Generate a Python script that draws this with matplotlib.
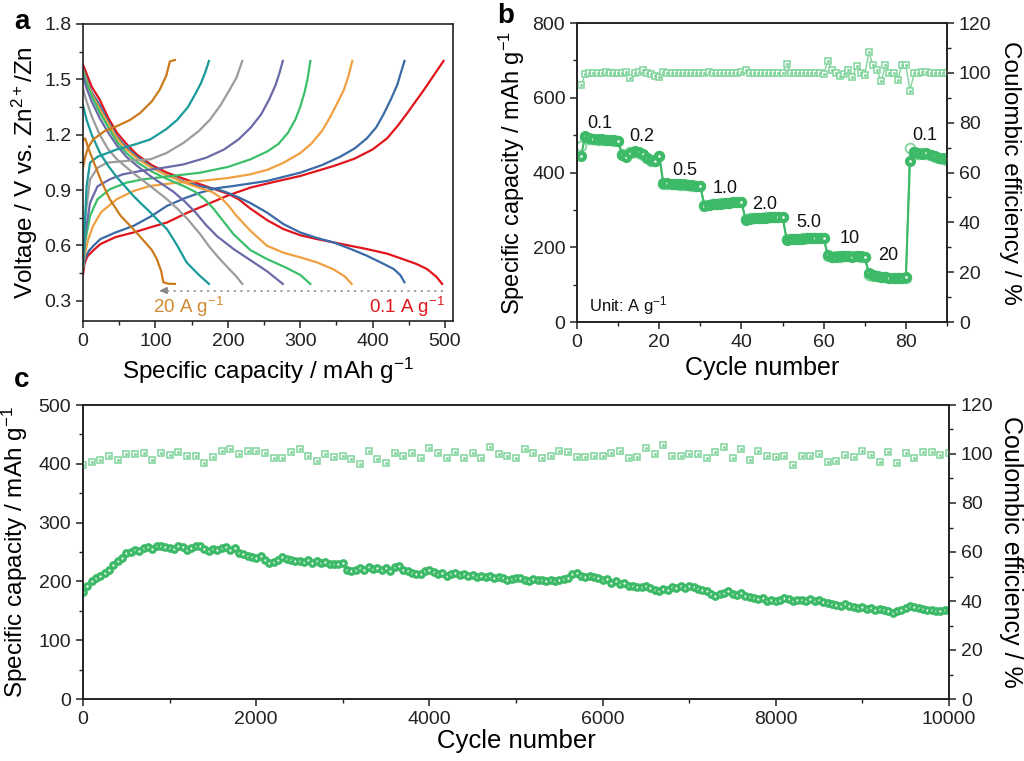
import matplotlib
matplotlib.use("Agg")
import matplotlib.pyplot as plt
from matplotlib.ticker import MultipleLocator

plt.rcParams['font.family'] = ['Liberation Sans', 'DejaVu Sans']
plt.rcParams['mathtext.fontset'] = 'custom'
plt.rcParams['mathtext.rm'] = 'Liberation Sans'
plt.rcParams['mathtext.it'] = 'Liberation Sans:italic'
plt.rcParams['mathtext.bf'] = 'Liberation Sans:bold'
plt.rcParams['mathtext.default'] = 'regular'

# ---------------- Panel a data ----------------
rates = ['0.1', '0.2', '0.5', '1.0', '2.0', '5.0', '10', '20']
rate_colors = ['#e0161c', '#3a6aa6', '#f0a040', '#3cbf6a', '#6b6aa8', '#9c9c9c', '#1a9a9a', '#cc7a1c']

charge_cap = [
    [0, 2, 6, 12, 24, 45, 70, 95, 116, 143, 170, 200, 231, 265, 300, 346, 375, 400, 420, 435, 448, 471, 498],
    [0, 3, 8, 15, 24, 45, 70, 95, 116, 140, 162, 185, 208, 254, 300, 330, 355, 375, 392, 405, 415, 425, 434, 444],
    [0, 3, 7, 14, 25, 46.6, 70, 92.7, 130, 162, 200, 231, 255, 277, 300, 315, 330, 342, 351, 360, 366, 372],
    [0, 3, 9.7, 20, 37, 60, 83, 120, 162, 200, 231, 255, 270, 283, 293, 300, 306, 310, 314],
    [0, 3, 9.7, 20, 37, 55, 79, 110, 139, 170, 195, 215, 232, 246, 257, 266, 271, 276],
    [0, 3, 9.7, 20, 33, 60, 92.7, 115, 139, 160, 175, 190, 202, 212, 220],
    [0, 2, 5, 9.7, 20, 46.6, 70, 92.7, 115, 130, 145, 155, 163, 169, 174],
    [0, 3, 7, 14, 30, 46.6, 65, 79, 95, 106, 115, 120, 127],
]
charge_v = [
    [0.44, 0.50, 0.54, 0.565, 0.607, 0.645, 0.67, 0.70, 0.724, 0.775, 0.82, 0.87, 0.913, 0.945, 0.976, 1.03, 1.07, 1.12, 1.18, 1.25, 1.318, 1.444, 1.60],
    [0.47, 0.53, 0.57, 0.60, 0.634, 0.67, 0.706, 0.76, 0.814, 0.855, 0.886, 0.91, 0.922, 0.949, 0.994, 1.035, 1.08, 1.125, 1.18, 1.24, 1.31, 1.39, 1.47, 1.60],
    [0.48, 0.56, 0.63, 0.706, 0.78, 0.85, 0.895, 0.922, 0.94, 0.949, 0.965, 0.985, 1.01, 1.048, 1.10, 1.15, 1.22, 1.30, 1.37, 1.44, 1.51, 1.60],
    [0.48, 0.62, 0.76, 0.85, 0.904, 0.94, 0.958, 0.975, 0.994, 1.025, 1.066, 1.11, 1.15, 1.21, 1.28, 1.35, 1.43, 1.50, 1.60],
    [0.48, 0.66, 0.83, 0.92, 0.958, 0.985, 1.003, 1.02, 1.039, 1.075, 1.12, 1.175, 1.24, 1.31, 1.39, 1.47, 1.53, 1.60],
    [0.48, 0.75, 0.958, 1.02, 1.048, 1.058, 1.066, 1.10, 1.156, 1.22, 1.28, 1.36, 1.44, 1.51, 1.60],
    [0.50, 0.67, 0.92, 1.048, 1.08, 1.12, 1.145, 1.174, 1.23, 1.28, 1.35, 1.42, 1.48, 1.54, 1.60],
    [1.02, 1.08, 1.13, 1.174, 1.22, 1.246, 1.28, 1.318, 1.38, 1.444, 1.52, 1.597, 1.605],
]
discharge_cap = [
    [0, 5, 12, 23, 35, 47, 60, 75, 95, 116, 140, 162, 185, 200, 215, 231, 255, 277, 300, 323, 360, 392, 420, 440, 460, 475, 488, 496],
    [0, 5, 12, 23, 35, 47, 60, 75, 95, 116, 140, 162, 185, 200, 215, 231, 254, 277, 300, 323, 346, 370, 392, 415, 429, 438, 444],
    [0, 5, 12, 23, 35, 47, 60, 75, 95, 116, 140, 162, 178, 190, 200, 212, 231, 254, 277, 300, 323, 346, 362, 371],
    [0, 5, 12, 23, 35, 47, 60, 75, 95, 116, 140, 155, 168, 180, 192, 208, 231, 254, 280, 300, 314],
    [0, 5, 12, 23, 35, 47, 60, 75, 95, 110, 125, 140, 155, 170, 185, 208, 231, 254, 276],
    [0, 5, 12, 23, 35, 47, 70, 92.7, 116, 130, 145, 162, 175, 188, 200, 212, 220],
    [0, 5, 12, 23.5, 35, 46.6, 58, 69.6, 82, 92.7, 105, 116, 130, 143, 160, 174],
    [0, 3, 8, 14, 25, 37, 52, 69.6, 85, 95, 102, 108, 111, 118, 127],
]
discharge_v = [
    [1.58, 1.53, 1.46, 1.39, 1.29, 1.21, 1.15, 1.09, 1.035, 0.994, 0.96, 0.931, 0.90, 0.88, 0.85, 0.80, 0.735, 0.688, 0.655, 0.634, 0.605, 0.58, 0.555, 0.528, 0.50, 0.472, 0.43, 0.391],
    [1.56, 1.50, 1.43, 1.36, 1.27, 1.19, 1.13, 1.08, 1.025, 0.98, 0.945, 0.92, 0.905, 0.885, 0.86, 0.83, 0.778, 0.715, 0.67, 0.64, 0.616, 0.58, 0.544, 0.50, 0.472, 0.44, 0.40],
    [1.55, 1.49, 1.42, 1.34, 1.26, 1.18, 1.12, 1.07, 1.02, 0.98, 0.94, 0.91, 0.89, 0.86, 0.82, 0.76, 0.68, 0.598, 0.56, 0.535, 0.508, 0.47, 0.43, 0.391],
    [1.54, 1.48, 1.41, 1.32, 1.24, 1.16, 1.10, 1.05, 1.00, 0.96, 0.92, 0.89, 0.85, 0.80, 0.74, 0.66, 0.575, 0.526, 0.48, 0.44, 0.391],
    [1.52, 1.45, 1.38, 1.29, 1.21, 1.14, 1.08, 1.03, 0.97, 0.93, 0.89, 0.84, 0.78, 0.71, 0.65, 0.58, 0.52, 0.46, 0.391],
    [1.45, 1.38, 1.30, 1.20, 1.12, 1.066, 0.99, 0.922, 0.85, 0.80, 0.74, 0.66, 0.59, 0.53, 0.48, 0.43, 0.391],
    [1.36, 1.28, 1.20, 1.10, 1.03, 0.97, 0.92, 0.868, 0.82, 0.78, 0.73, 0.688, 0.60, 0.508, 0.44, 0.391],
    [1.17, 1.18, 1.12, 1.06, 0.95, 0.85, 0.76, 0.688, 0.62, 0.575, 0.526, 0.46, 0.40, 0.392, 0.391],
]
arrow_cap = [497, 104]
arrow_v = [0.355, 0.355]

# ---------------- Panel b data ----------------
cycles_b = list(range(1, 91))
cap_b_charge = [
    445, 498, 492, 490, 490, 489, 488, 488, 486, 484,
    447, 442, 452, 458, 455, 450, 440, 434, 430, 445,
    372, 371, 370, 369, 368, 368, 367, 366, 365, 364,
    310, 313, 315, 316, 317, 318, 319, 320, 321, 322,
    274, 276, 277, 278, 279, 279, 280, 280, 281, 281,
    220, 222, 222, 223, 223, 224, 224, 224, 225, 225,
    180, 174, 175, 176, 177, 176, 175, 177, 176, 175,
    130, 126, 123, 121, 120, 119, 118, 118, 117, 121,
    430, 456, 452, 450, 452, 447, 443, 440, 438, 435,
]
cap_b_discharge = [
    470, 495, 490, 489, 488, 488, 487, 486, 485, 483,
    450, 444, 454, 456, 452, 447, 438, 432, 432, 443,
    370, 370, 369, 368, 367, 367, 366, 365, 364, 363,
    312, 314, 315, 317, 318, 318, 319, 320, 320, 321,
    276, 277, 278, 278, 279, 280, 280, 281, 280, 281,
    222, 222, 223, 223, 224, 224, 224, 225, 225, 224,
    176, 175, 176, 175, 176, 177, 176, 176, 175, 174,
    126, 124, 122, 121, 120, 119, 119, 118, 118, 119,
    465, 455, 450, 451, 450, 446, 442, 440, 437, 434,
]
ce_b = [
    95.0, 99.5, 99.8, 100.0, 99.8, 100.0, 100.2, 100.0, 99.8, 100.0,
    100.0, 100.3, 97.8, 100.0, 100.5, 101.0, 100.0, 99.5, 98.7, 98.5,
    100.5, 100.0, 100.0, 100.0, 100.0, 100.0, 100.0, 100.0, 100.0, 100.0,
    100.0, 100.3, 100.0, 100.0, 100.0, 100.0, 100.0, 100.0, 100.0, 100.3,
    101.0, 100.0, 100.0, 100.0, 100.0, 100.0, 100.0, 100.0, 100.0, 100.0,
    103.4, 100.0, 100.0, 99.8, 100.0, 100.0, 100.0, 100.0, 100.0, 99.5,
    104.8, 101.0, 100.0, 98.7, 99.5, 101.3, 98.4, 102.7, 100.0, 99.3,
    108.2, 103.0, 101.0, 96.7, 103.0, 100.0, 100.0, 97.0, 103.0, 103.0,
    92.8, 99.8, 100.0, 100.5, 100.5, 100.0, 100.0, 100.0, 100.0, 100.0,
]
b_labels = ['0.1', '0.2', '0.5', '1.0', '2.0', '5.0', '10', '20', '0.1']
b_label_cycle = [5.6, 15.7, 26.3, 36.0, 45.7, 56.3, 66.4, 75.7, 84.7]
b_label_cap = [531, 495, 406, 357, 315, 265, 223, 178, 499]

# ---------------- Panel c data ----------------
cycles_c = list(range(0, 10001, 50))
cap_c = [
    182, 192, 200, 205, 210, 214, 220, 228, 235, 240,
    248, 250, 253, 251, 256, 258, 255, 260, 261, 258,
    256, 255, 260, 258, 254, 256, 260, 261, 255, 252,
    255, 253, 256, 258, 254, 257, 249, 246, 244, 242,
    240, 243, 236, 231, 233, 236, 242, 238, 236, 234,
    235, 233, 236, 232, 234, 231, 233, 230, 229, 230,
    231, 219, 218, 220, 222, 220, 224, 221, 223, 220,
    222, 218, 224, 226, 219, 217, 214, 212, 213, 218,
    219, 216, 213, 214, 210, 212, 214, 211, 212, 209,
    211, 208, 210, 207, 209, 206, 208, 205, 203, 204,
    205, 206, 203, 201, 204, 203, 202, 200, 203, 201,
    202, 204, 206, 212, 215, 210, 207, 209, 208, 206,
    202, 204, 197, 200, 195, 197, 192, 193, 191, 190,
    192, 189, 186, 184, 187, 185, 190, 189, 192, 188,
    193, 190, 187, 185, 184, 178, 176, 179, 180, 183,
    179, 177, 180, 176, 173, 171, 170, 172, 167, 168,
    166, 169, 172, 170, 166, 168, 169, 167, 170, 166,
    168, 165, 163, 162, 160, 158, 161, 159, 156, 155,
    157, 153, 155, 151, 153, 152, 150, 147, 149, 151,
    155, 158, 156, 154, 153, 152, 151, 150, 149, 152,
    152,
]
cycles_ce_c = list(range(0, 10001, 100))
ce_c = [
    95.5, 96.9, 97.6, 99.2, 97.6, 100.0, 100.0, 100.5, 97.6, 100.5,
    99.6, 101.0, 99.2, 99.2, 96.5, 98.9, 101.2, 102.0, 100.0, 101.4,
    101.4, 100.5, 98.2, 98.2, 101.0, 101.9, 99.2, 97.1, 100.0, 98.9,
    99.2, 97.8, 95.8, 101.4, 97.8, 96.3, 100.3, 99.2, 100.3, 98.5,
    102.6, 100.3, 98.2, 100.7, 98.2, 100.3, 98.2, 102.7, 100.0, 99.2,
    98.2, 102.0, 100.3, 98.5, 99.2,
    101.2, 101.0, 98.9, 98.9, 99.2, 99.2, 100.3, 101.4, 98.2, 98.9,
    102.3, 100.0, 103.7, 99.2, 99.2, 100.0, 100.0, 98.2, 101.0, 103.0,
    98.2, 101.9, 97.6, 101.4, 99.2, 98.6, 99.2, 95.5, 99.2, 99.2,
    100.0, 96.7, 97.3, 99.6, 98.9, 101.4, 99.6, 96.7, 101.0, 96.2,
    100.5, 98.2, 101.0, 101.0, 99.6, 100.3,
]

GREEN = '#3dba68'
LIGHT = '#7fd49b'
TICK_FS = 14
LAB_FS = 17.5

fig = plt.figure(figsize=(10.24, 7.61), dpi=100)


def style_ax(ax, right=False):
    for s in ax.spines.values():
        s.set_linewidth(1.2)
        s.set_color('#222222')
    ax.tick_params(which='major', direction='out', length=5, width=1.1, labelsize=TICK_FS, colors='#222222')
    ax.tick_params(which='minor', direction='out', length=3, width=1.0, colors='#222222')
    ax.tick_params(axis='x', which='both', top=False)
    if not right:
        ax.tick_params(axis='y', which='both', right=False)


# ---------------- Panel a ----------------
axa = fig.add_axes([83 / 1024, 1 - 321 / 761, 370 / 1024, 297 / 761])
for i in range(len(rates)):
    axa.plot(charge_cap[i], charge_v[i], color=rate_colors[i], lw=1.6, solid_joinstyle='round')
    axa.plot(discharge_cap[i], discharge_v[i], color=rate_colors[i], lw=1.6, solid_joinstyle='round')
axa.plot(arrow_cap, arrow_v, color='#999999', lw=1.3, ls=(0, (1.2, 2.5)))
axa.annotate('', xy=(arrow_cap[1] - 2, arrow_v[1]), xytext=(arrow_cap[1] + 12, arrow_v[1]),
             arrowprops=dict(arrowstyle='-|>', color='#888888', lw=1.2, mutation_scale=10))
axa.text(97, 0.268, '20 A g$^{-1}$', color='#d08a30', fontsize=13.5, ha='left', va='center')
axa.text(500, 0.268, '0.1 A g$^{-1}$', color='#e0161c', fontsize=13.5, ha='right', va='center')
axa.set_xlim(0, 511)
axa.set_ylim(0.19, 1.8)
axa.xaxis.set_major_locator(MultipleLocator(100))
axa.xaxis.set_minor_locator(MultipleLocator(50))
axa.yaxis.set_minor_locator(MultipleLocator(0.15))
axa.set_yticks([0.3, 0.6, 0.9, 1.2, 1.5, 1.8])
axa.set_yticklabels(['0.3', '0.6', '0.9', '1.2', '1.5', '1.8'])
style_ax(axa)
axa.set_xlabel('Specific capacity / mAh g$^{-1}$', fontsize=LAB_FS, labelpad=4)
axa.set_ylabel('Voltage / V vs. Zn$^{2+}$/Zn', fontsize=LAB_FS, labelpad=3)

# ---------------- Panel b ----------------
axb = fig.add_axes([577 / 1024, 1 - 322 / 761, 370 / 1024, 299 / 761])
axb2 = axb.twinx()
axb.plot(cycles_b, cap_b_discharge, color=GREEN, lw=1.2, marker='o', ms=7, mfc='white', mec=LIGHT, mew=1.3, zorder=2)
axb.plot(cycles_b, cap_b_charge, color=GREEN, lw=1.5, marker='o', ms=5, mfc='white', mec=GREEN, mew=3.0, zorder=3)
axb2.plot(cycles_b, ce_b, color=LIGHT, lw=1.0, marker='s', ms=5, mfc='white', mec=LIGHT, mew=1.1)
axb2.plot(cycles_b, ce_b, ls='none', marker='s', ms=1.0, mfc=LIGHT, mec=LIGHT)
for t, cx, cy in zip(b_labels, b_label_cycle, b_label_cap):
    axb.text(cx, cy, t, fontsize=13, ha='center', va='center', color='#111111')
axb.text(3, 45, 'Unit: A g$^{-1}$', fontsize=12, ha='left', va='center', color='#111111')
axb.set_xlim(0, 90)
axb.set_ylim(0, 800)
axb2.set_ylim(0, 120)
axb.xaxis.set_major_locator(MultipleLocator(20))
axb.xaxis.set_minor_locator(MultipleLocator(10))
axb.yaxis.set_major_locator(MultipleLocator(200))
axb.yaxis.set_minor_locator(MultipleLocator(100))
axb2.yaxis.set_major_locator(MultipleLocator(20))
axb2.yaxis.set_minor_locator(MultipleLocator(10))
style_ax(axb)
style_ax(axb2, right=True)
axb2.tick_params(axis='y', which='both', left=False)
axb.set_xlabel('Cycle number', fontsize=LAB_FS + 0.5, labelpad=4)
axb.set_ylabel('Specific capacity / mAh g$^{-1}$', fontsize=LAB_FS - 0.5, labelpad=4)
axb2.set_ylabel('Coulombic efficiency / %', fontsize=LAB_FS, rotation=270, labelpad=21)

# ---------------- Panel c ----------------
axc = fig.add_axes([83 / 1024, 1 - 699 / 761, 866 / 1024, 294 / 761])
axc2 = axc.twinx()
axc.plot(cycles_c, cap_c, color=GREEN, lw=1.2, marker='o', ms=4, mfc='white', mec=GREEN, mew=2.3)
axc2.plot(cycles_ce_c, ce_c, ls='none', marker='s', ms=4.5, mfc='white', mec=LIGHT, mew=1.1)
axc2.plot(cycles_ce_c, ce_c, ls='none', marker='s', ms=1.0, mfc=LIGHT, mec=LIGHT)
axc.set_xlim(0, 10000)
axc.set_ylim(0, 500)
axc2.set_ylim(0, 120)
axc.xaxis.set_major_locator(MultipleLocator(2000))
axc.xaxis.set_minor_locator(MultipleLocator(1000))
axc.yaxis.set_major_locator(MultipleLocator(100))
axc.yaxis.set_minor_locator(MultipleLocator(50))
axc2.yaxis.set_major_locator(MultipleLocator(20))
axc2.yaxis.set_minor_locator(MultipleLocator(10))
style_ax(axc)
style_ax(axc2, right=True)
axc2.tick_params(axis='y', which='both', left=False)
axc.set_xlabel('Cycle number', fontsize=LAB_FS + 1, labelpad=1)
axc.set_ylabel('Specific capacity / mAh g$^{-1}$', fontsize=LAB_FS, labelpad=6)
axc2.set_ylabel('Coulombic efficiency / %', fontsize=LAB_FS + 0.5, rotation=270, labelpad=21)

# Panel letters
fig.text(14 / 1024, 1 - 22 / 761, 'a', fontsize=20, fontweight='bold', va='center', ha='left')
fig.text(497 / 1024, 1 - 16 / 761, 'b', fontsize=20, fontweight='bold', va='center', ha='left')
fig.text(14 / 1024, 1 - 380 / 761, 'c', fontsize=20, fontweight='bold', va='center', ha='left')

fig.savefig('out.png', dpi=100)
